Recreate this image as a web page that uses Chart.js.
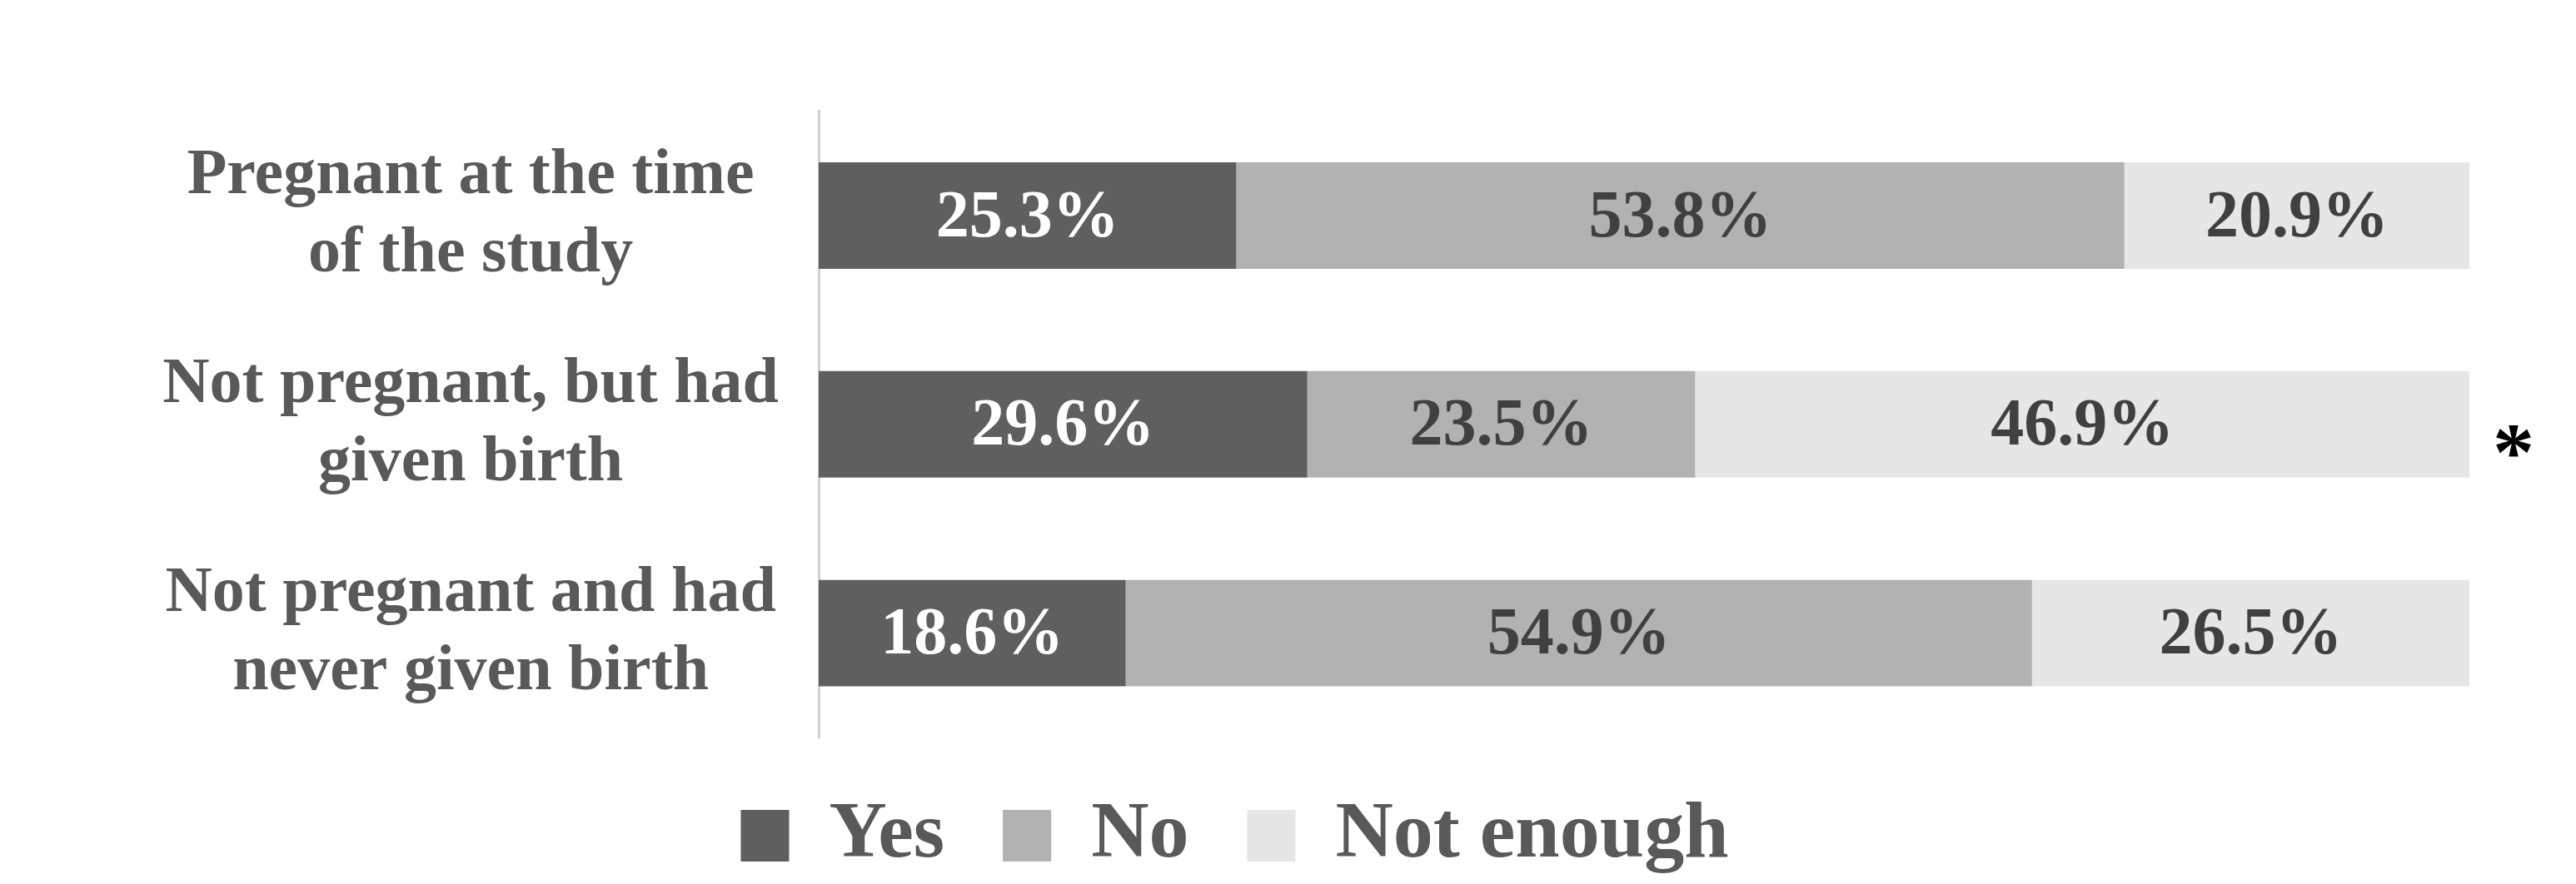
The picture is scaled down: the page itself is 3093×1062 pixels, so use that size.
<!DOCTYPE html>
<html><head><meta charset="utf-8">
<script src="https://cdn.jsdelivr.net/npm/chart.js@4/dist/chart.umd.min.js"></script>
<style>html,body{margin:0;padding:0;background:#fff}#w{width:3093px;height:1062px}</style>
</head><body><div id="w"><canvas id="c"></canvas></div>
<script>
const categories = [["Pregnant at the time","of the study"],["Not pregnant, but had","given birth"],["Not pregnant and had","never given birth"]];
const seriesNames = ["Yes","No","Not enough"];
const yesValues = [25.3,29.6,18.6];
const noValues = [53.8,23.5,54.9];
const notEnoughValues = [20.9,46.9,26.5];
const significance = ["","*",""];
const colors = ["#5f5f5f","#b2b2b2","#e6e6e6"];
const FONT = "'Liberation Serif', serif";

const labelPlugin = {
  id:'labels',
  afterDatasetsDraw(chart){
    const ctx = chart.ctx;
    ctx.save();
    ctx.font = "bold 80px "+FONT;
    ctx.textAlign='center'; ctx.textBaseline='middle';
    chart.data.datasets.forEach((ds,di)=>{
      chart.getDatasetMeta(di).data.forEach((bar,i)=>{
        const p = bar.getProps(['x','base','y'],true);
        ctx.fillStyle = di===0 ? '#ffffff' : '#404040';
        ctx.fillText(ds.data[i].toFixed(1)+'%', (p.x+p.base)/2, p.y+4);
      });
    });
    ctx.fillStyle='#000'; ctx.font="bold 100px "+FONT; ctx.textAlign='left';
    const meta = chart.getDatasetMeta(2);
    significance.forEach((s,i)=>{ if(s){ const b=meta.data[i]; ctx.fillText(s, b.x+28, b.y+40);} });
    ctx.restore();
  }
};

new Chart(document.getElementById('c'),{
  type:'bar',
  data:{labels:categories,datasets:[
    {label:seriesNames[0],data:yesValues,backgroundColor:colors[0]},
    {label:seriesNames[1],data:noValues,backgroundColor:colors[1]},
    {label:seriesNames[2],data:notEnoughValues,backgroundColor:colors[2]}
  ]},
  options:{
    indexAxis:'y',responsive:true,maintainAspectRatio:false,animation:false,
    layout:{padding:{top:-69,right:128,bottom:0,left:0}},
    datasets:{bar:{barPercentage:0.51,categoryPercentage:1}},
    scales:{
      x:{stacked:true,min:0,max:100,display:false},
      y:{stacked:true,grid:{display:false},border:{display:true,color:'#d0d0d0',width:3},
         ticks:{color:'#595959',font:{family:FONT,size:78,weight:'bold'},padding:40,crossAlign:'center'},
         afterFit(s){s.width=983;}}
    },
    plugins:{
      legend:{position:'bottom',labels:{color:'#595959',font:{family:FONT,size:96,weight:'bold'},boxWidth:58,boxHeight:62,padding:70,useBorderRadius:false}},
      tooltip:{enabled:false}
    }
  },
  plugins:[labelPlugin]
});
</script></body></html>
